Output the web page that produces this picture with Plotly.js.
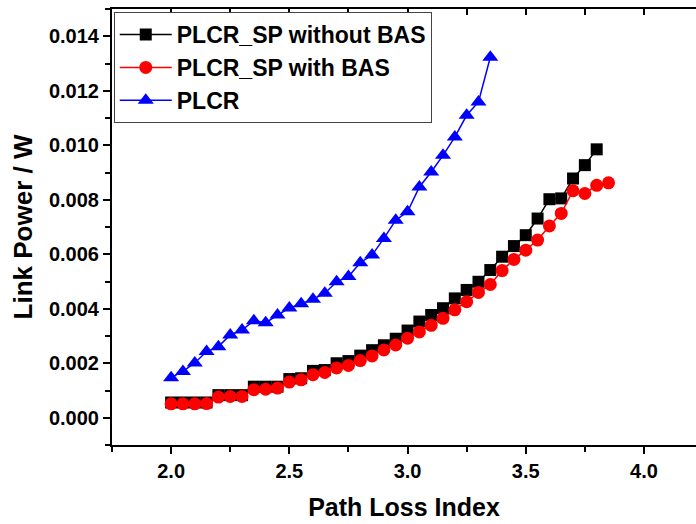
<!DOCTYPE html>
<html>
<head>
<meta charset="utf-8">
<script src="https://cdn.plot.ly/plotly-3.0.1.min.js"></script>
<style>
  html, body { margin: 0; padding: 0; overflow: hidden; background: #fff; }
  #chart { width: 696px; height: 524px; }
</style>
</head>
<body>
<div id="chart"></div>
<script>
// Path loss index values for each series
const xNoBas = [2.00, 2.05, 2.10, 2.15, 2.20, 2.25, 2.30, 2.35, 2.40, 2.45,
                2.50, 2.55, 2.60, 2.65, 2.70, 2.75, 2.80, 2.85, 2.90, 2.95,
                3.00, 3.05, 3.10, 3.15, 3.20, 3.25, 3.30, 3.35, 3.40, 3.45,
                3.50, 3.55, 3.60, 3.65, 3.70, 3.75, 3.80];
const xWithBas = [2.00, 2.05, 2.10, 2.15, 2.20, 2.25, 2.30, 2.35, 2.40, 2.45,
                  2.50, 2.55, 2.60, 2.65, 2.70, 2.75, 2.80, 2.85, 2.90, 2.95,
                  3.00, 3.05, 3.10, 3.15, 3.20, 3.25, 3.30, 3.35, 3.40, 3.45,
                  3.50, 3.55, 3.60, 3.65, 3.70, 3.75, 3.80, 3.85];
const xPlcr = [2.00, 2.05, 2.10, 2.15, 2.20, 2.25, 2.30, 2.35, 2.40, 2.45,
               2.50, 2.55, 2.60, 2.65, 2.70, 2.75, 2.80, 2.85, 2.90, 2.95,
               3.00, 3.05, 3.10, 3.15, 3.20, 3.25, 3.30, 3.35];

// Link power (W)
const powerNoBas = [0.00056, 0.00056, 0.00056, 0.00056, 0.00083, 0.00083, 0.00083,
                    0.00114, 0.00114, 0.00114, 0.00142, 0.00145, 0.00172, 0.00175,
                    0.00200, 0.00208, 0.00228, 0.00248, 0.00266, 0.00290, 0.00320,
                    0.00353, 0.00377, 0.00402, 0.00438, 0.00469, 0.00499, 0.00542,
                    0.00591, 0.00630, 0.00670, 0.00731, 0.00802, 0.00805, 0.00878,
                    0.00927, 0.00985];
const powerWithBas = [0.00051, 0.00051, 0.00051, 0.00052, 0.00076, 0.00078, 0.00078,
                      0.00103, 0.00105, 0.00109, 0.00131, 0.00139, 0.00158, 0.00166,
                      0.00183, 0.00192, 0.00210, 0.00227, 0.00249, 0.00267, 0.00292,
                      0.00315, 0.00339, 0.00365, 0.00396, 0.00426, 0.00460, 0.00489,
                      0.00540, 0.00581, 0.00615, 0.00652, 0.00704, 0.00750, 0.00833,
                      0.00823, 0.00853, 0.00862];
const powerPlcr = [0.00147, 0.00170, 0.00201, 0.00243, 0.00261, 0.00304, 0.00322,
                   0.00356, 0.00349, 0.00377, 0.00403, 0.00418, 0.00435, 0.00457,
                   0.00499, 0.00518, 0.00569, 0.00597, 0.00658, 0.00725, 0.00756,
                   0.00847, 0.00902, 0.00963, 0.01030, 0.01110, 0.01159, 0.01323];

const seriesNames = ['PLCR_SP without BAS', 'PLCR_SP with BAS', 'PLCR'];

const FONT = 'Liberation Sans, Arial, Helvetica, sans-serif';

const traces = [
  {
    x: xNoBas, y: powerNoBas, name: seriesNames[0], legendgroup: 'a',
    type: 'scatter', mode: 'lines+markers',
    line: { color: '#000000', width: 1.5 },
    marker: { symbol: 'square', size: 12, color: '#000000' }
  },
  {
    x: xWithBas, y: powerWithBas, name: seriesNames[1], legendgroup: 'b',
    type: 'scatter', mode: 'lines+markers',
    line: { color: '#ff0000', width: 1.5 },
    marker: { symbol: 'circle', size: 13, color: '#ff0000' }
  },
  {
    x: xPlcr, y: powerPlcr, name: seriesNames[2], legendgroup: 'c',
    type: 'scatter', mode: 'lines+markers',
    line: { color: '#0000ff', width: 1.5 },
    marker: { symbol: 'triangle-up', size: 14, color: '#0000ff' }
  },
  // carrier for the top frame axis (inward ticks)
  {
    x: [null], y: [null], xaxis: 'x2', yaxis: 'y',
    type: 'scatter', mode: 'markers', showlegend: false, hoverinfo: 'skip'
  }
];

const xRange = [1.75, 4.22];
const yRange = [-0.001, 0.015];

const layout = {
  width: 696, height: 524,
  margin: { l: 112, r: 0, t: 9, b: 79 },
  paper_bgcolor: '#ffffff', plot_bgcolor: '#ffffff',
  font: { family: FONT, color: '#000000', weight: 'bold' },
  showlegend: true,
  legend: {
    x: 0.003, y: 0.993, xanchor: 'left', yanchor: 'top',
    bgcolor: '#ffffff', bordercolor: '#444444', borderwidth: 1,
    font: { family: FONT, size: 23, color: '#000000', weight: 'bold' },
    itemwidth: 52, traceorder: 'grouped', tracegroupgap: 0
  },
  xaxis: {
    range: xRange, dtick: 0.5, tick0: 0, tickformat: '.1f',
    showgrid: false, zeroline: false,
    showline: true, linecolor: '#000000', linewidth: 2,
    ticks: 'outside', ticklen: 7, tickwidth: 2, tickcolor: '#000000',
    minor: { dtick: 0.25, tick0: 0, ticks: 'outside', ticklen: 5, tickwidth: 2, tickcolor: '#000000', showgrid: false },
    tickfont: { family: FONT, size: 20, weight: 'bold' },
    title: { text: 'Path Loss Index', font: { family: FONT, size: 25, weight: 'bold' }, standoff: 17 },
    automargin: false
  },
  xaxis2: {
    overlaying: 'x', matches: 'x', side: 'top', anchor: 'y',
    range: xRange, dtick: 0.25, tick0: 0,
    showgrid: false, zeroline: false, showticklabels: false,
    showline: true, linecolor: '#000000', linewidth: 2,
    ticks: 'inside', ticklen: 6, tickwidth: 2, tickcolor: '#000000'
  },
  yaxis: {
    range: yRange, dtick: 0.002, tick0: 0, tickformat: '.3f',
    showgrid: false, zeroline: false,
    showline: true, linecolor: '#000000', linewidth: 2,
    ticks: 'outside', ticklen: 7, tickwidth: 2, tickcolor: '#000000',
    minor: { dtick: 0.001, tick0: 0, ticks: 'outside', ticklen: 5, tickwidth: 2, tickcolor: '#000000', showgrid: false },
    tickfont: { family: FONT, size: 20, weight: 'bold' },
    title: { text: 'Link Power / W', font: { family: FONT, size: 26, weight: 'bold' }, standoff: 9 },
    automargin: false
  }
};

Plotly.newPlot('chart', traces, layout, { displayModeBar: false, staticPlot: true });
</script>
</body>
</html>
